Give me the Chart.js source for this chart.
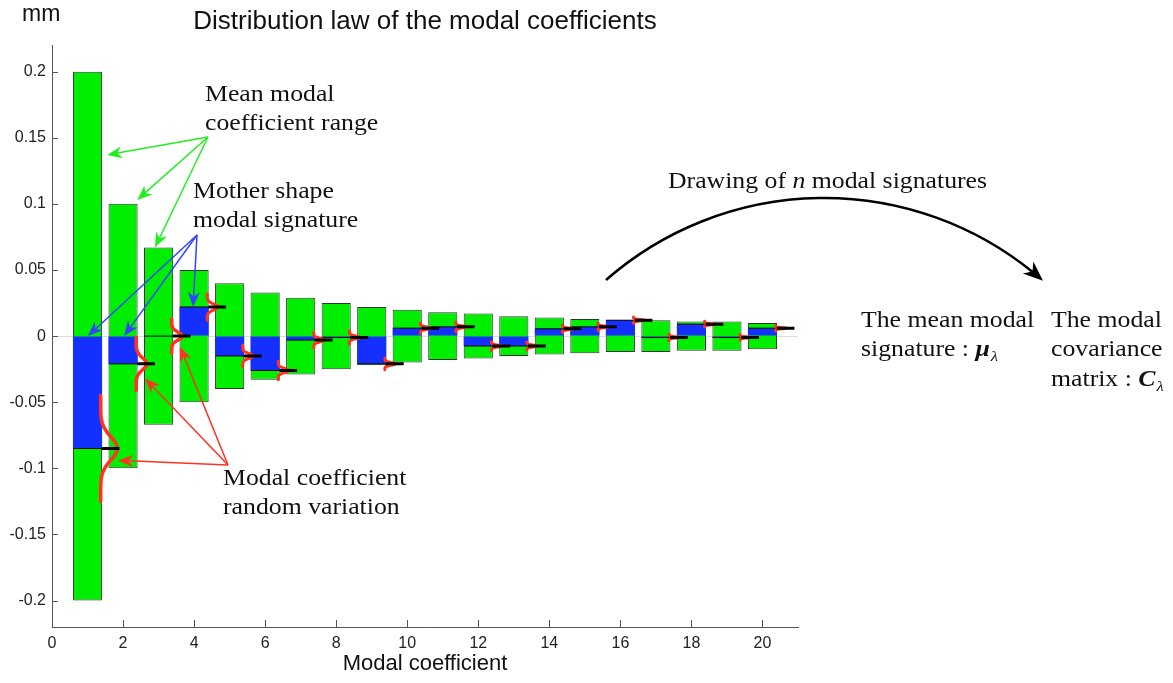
<!DOCTYPE html>
<html>
<head>
<meta charset="utf-8">
<script src="https://cdn.jsdelivr.net/npm/chart.js@4.4.1/dist/chart.umd.min.js"></script>
<style>
  html, body { margin: 0; padding: 0; background: #fff; }
  #wrap { width: 1173px; height: 683px; }
</style>
</head>
<body>
<div id="wrap"><canvas id="modalChart" width="1173" height="683"></canvas></div>
<script>
// modal coefficient index
const modes = [1, 2, 3, 4, 5, 6, 7, 8, 9, 10, 11, 12, 13, 14, 15, 16, 17, 18, 19, 20];
// half width of the mean modal coefficient range (green bars), mm
const rangeHalf = [0.2, 0.1, 0.067, 0.05, 0.04, 0.033, 0.029, 0.025, 0.022, 0.02,
                   0.018, 0.017, 0.015, 0.014, 0.013, 0.012, 0.012, 0.011, 0.011, 0.01];
// mother shape modal signature (blue bars), mm
const meanSig = [-0.085, -0.021, 0, 0.022, -0.015, -0.026, -0.003, -0.001, -0.021, 0.006,
                 0.007, -0.0075, -0.0075, 0.0055, 0.007, 0.012, -0.001, 0.009, -0.001, 0.006];
// half height of the red random variation curves, mm
const spread = [0.04, 0.02, 0.013, 0.01, 0.008, 0.007, 0.006, 0.005, 0.0045, 0.004,
                0.0037, 0.0034, 0.0031, 0.0029, 0.0027, 0.0025, 0.0024, 0.0022, 0.0021, 0.002];
const xTicks = [0, 2, 4, 6, 8, 10, 12, 14, 16, 18, 20];
const yTicks = [-0.2, -0.15, -0.1, -0.05, 0, 0.05, 0.1, 0.15, 0.2];

const SANS = '"Liberation Sans", Arial, sans-serif';
const SERIF = '"Liberation Serif", "Times New Roman", serif';
const STRETCH = 1.12;   // the serif labels in the figure are a bit wide
const GREEN = '#00ee00';
const BLUE = '#1430ff';
const RED = '#ff3320';

// segments: thin line across the bar at the signature value, thick one right of it
const thinLine = [];
const thickLine = [];
modes.forEach((k, i) => {
    thinLine.push({x: k - 0.4, y: meanSig[i]}, {x: k + 0.4, y: meanSig[i]}, {x: k + 0.41, y: null});
    thickLine.push({x: k + 0.4, y: meanSig[i]}, {x: k + 0.9, y: meanSig[i]}, {x: k + 0.91, y: null});
});

function serifText(ctx, str, x, y, style, size) {
    ctx.save();
    ctx.font = (style || '') + ' ' + (size || 23) + 'px ' + SERIF;
    ctx.translate(x, y);
    ctx.scale(STRETCH, 1);
    ctx.fillText(str, 0, 0);
    const w = ctx.measureText(str).width * STRETCH;
    ctx.restore();
    return w;
}

function arrow(ctx, x0, y0, x1, y1, color, lw, len, half) {
    const a = Math.atan2(y1 - y0, x1 - x0);
    ctx.save();
    ctx.strokeStyle = color;
    ctx.fillStyle = color;
    ctx.lineWidth = lw;
    ctx.beginPath();
    ctx.moveTo(x0, y0);
    ctx.lineTo(x1 - Math.cos(a) * len * 0.7, y1 - Math.sin(a) * len * 0.7);
    ctx.stroke();
    ctx.translate(x1, y1);
    ctx.rotate(a);
    ctx.beginPath();
    ctx.moveTo(0, 0);
    ctx.lineTo(-len, -half);
    ctx.lineTo(-len * 0.7, 0);
    ctx.lineTo(-len, half);
    ctx.closePath();
    ctx.fill();
    ctx.restore();
}

// red bell curves, drawn just under the thick black segments
const bellPlugin = {
    id: 'bells',
    beforeDatasetDraw(chart, args) {
        if (args.index !== 3) return;
        const {ctx, chartArea, scales: {x, y}} = chart;
        ctx.save();
        ctx.beginPath();
        ctx.rect(chartArea.left, chartArea.top, chartArea.right - chartArea.left, chartArea.bottom - chartArea.top);
        ctx.clip();
        ctx.strokeStyle = RED;
        ctx.lineJoin = 'round';
        ctx.lineCap = 'round';
        modes.forEach((k, i) => {
            const w = k === 1 ? 0.47 : 0.3;
            const base = k + 0.37;
            ctx.lineWidth = k < 4 ? 3.5 : 3;
            ctx.beginPath();
            for (let t = -1; t <= 1.0001; t += 0.05) {
                const z = 4.5 * t;
                const px = x.getPixelForValue(base + w * Math.exp(-z * z / 2));
                const py = y.getPixelForValue(meanSig[i] + t * spread[i]);
                if (t === -1) ctx.moveTo(px, py); else ctx.lineTo(px, py);
            }
            ctx.stroke();
        });
        ctx.restore();
    }
};

const notesPlugin = {
    id: 'notes',
    afterDraw(chart) {
        const {ctx, chartArea, scales: {x, y}} = chart;
        ctx.save();
        // inward tick marks, MATLAB style
        ctx.strokeStyle = '#555';
        ctx.lineWidth = 1;
        ctx.beginPath();
        yTicks.forEach(v => {
            const py = Math.round(y.getPixelForValue(v)) + 0.5;
            ctx.moveTo(chartArea.left, py);
            ctx.lineTo(chartArea.left + 6, py);
        });
        xTicks.forEach(v => {
            const px = Math.round(x.getPixelForValue(v)) + 0.5;
            ctx.moveTo(px, chartArea.bottom);
            ctx.lineTo(px, chartArea.bottom - 7);
        });
        ctx.stroke();

        // unit label
        ctx.fillStyle = '#111';
        ctx.font = '23px ' + SANS;
        ctx.textBaseline = 'alphabetic';
        ctx.fillText('mm', 22, 21);

        // annotation texts
        serifText(ctx, 'Mean modal', 205, 101);
        serifText(ctx, 'coefficient range', 205, 130);
        serifText(ctx, 'Mother shape', 193, 198);
        serifText(ctx, 'modal signature', 193, 227);
        serifText(ctx, 'Modal coefficient', 223, 485);
        serifText(ctx, 'random variation', 223, 514);

        let cx = 668;
        cx += serifText(ctx, 'Drawing of ', cx, 188);
        cx += serifText(ctx, 'n', cx, 188, 'italic');
        serifText(ctx, ' modal signatures', cx, 188);

        serifText(ctx, 'The mean modal', 861, 327);
        cx = 861;
        cx += serifText(ctx, 'signature : ', cx, 356);
        cx += serifText(ctx, 'μ', cx, 356, 'italic bold');
        serifText(ctx, 'λ', cx + 1, 361, 'italic', 15);

        serifText(ctx, 'The modal', 1051, 327);
        serifText(ctx, 'covariance', 1051, 356);
        cx = 1051;
        cx += serifText(ctx, 'matrix : ', cx, 386);
        cx += serifText(ctx, 'C', cx, 386, 'italic bold');
        serifText(ctx, 'λ', cx + 1, 391, 'italic', 15);

        // annotation arrows (tips in data units)
        const P = (vx, vy) => [x.getPixelForValue(vx), y.getPixelForValue(vy)];
        [[1.55, 0.137], [2.4, 0.103], [2.9, 0.067]].forEach(t => {
            const [tx, ty] = P(t[0], t[1]);
            arrow(ctx, 208, 137, tx, ty, '#22ee22', 1.5, 15, 6);
        });
        [[1.01, 0], [2.03, 0], [3.97, 0.022]].forEach(t => {
            const [tx, ty] = P(t[0], t[1]);
            arrow(ctx, 197, 235, tx, ty, '#3344ff', 1.5, 15, 6);
        });
        [[1.86, -0.094], [2.62, -0.032], [3.6, -0.008]].forEach(t => {
            const [tx, ty] = P(t[0], t[1]);
            arrow(ctx, 228, 465, tx, ty, '#ff3322', 1.5, 15, 6);
        });

        // big curved arrow towards the statistics
        const acx = 824, acy = 529, r = 331;
        const a0 = Math.atan2(280 - acy, 606 - acx);
        const aTip = Math.atan2(282 - acy, 1042 - acx);
        const tipX = acx + r * Math.cos(aTip), tipY = acy + r * Math.sin(aTip);
        const dx = -Math.sin(aTip), dy = Math.cos(aTip);
        ctx.strokeStyle = '#000';
        ctx.lineWidth = 2.5;
        ctx.beginPath();
        ctx.arc(acx, acy, r, a0, aTip - 12 / r, false);
        ctx.stroke();
        arrow(ctx, tipX - dx * 14, tipY - dy * 14, tipX, tipY, '#000', 2.5, 20, 8);
        ctx.restore();
    }
};

new Chart(document.getElementById('modalChart'), {
    type: 'bar',
    data: {
        datasets: [
            {
                label: 'Mean modal coefficient range',
                data: modes.map((k, i) => ({x: k, y: [-rangeHalf[i], rangeHalf[i]]})),
                backgroundColor: GREEN,
                borderColor: '#333',
                borderWidth: 1,
                borderSkipped: false,
                grouped: false,
                categoryPercentage: 1,
                barPercentage: 0.82,
                order: 4
            },
            {
                label: 'Mother shape modal signature',
                data: modes.map((k, i) => ({x: k, y: [0, meanSig[i]]})),
                backgroundColor: BLUE,
                borderWidth: 0,
                grouped: false,
                categoryPercentage: 1,
                barPercentage: 0.82,
                order: 3
            },
            {
                type: 'line',
                label: 'signature level',
                data: thinLine,
                borderColor: '#000',
                borderWidth: 1,
                pointRadius: 0,
                fill: false,
                spanGaps: false,
                order: 2
            },
            {
                type: 'line',
                label: 'signature marker',
                data: thickLine,
                borderColor: '#000',
                borderWidth: 3,
                pointRadius: 0,
                fill: false,
                spanGaps: false,
                order: 1
            }
        ]
    },
    options: {
        responsive: false,
        devicePixelRatio: 1,
        animation: false,
        layout: { padding: { left: 0, right: 375, top: 0, bottom: 0 } },
        plugins: {
            legend: { display: false },
            tooltip: { enabled: false },
            title: {
                display: true,
                text: 'Distribution law of the modal coefficients',
                fullSize: false,
                color: '#111',
                font: { family: SANS, size: 26, weight: 'normal' },
                padding: { top: 6, bottom: 8 }
            }
        },
        scales: {
            x: {
                type: 'linear',
                min: 0,
                max: 21,
                offset: false,
                afterBuildTicks: s => { s.ticks = xTicks.map(v => ({value: v})); },
                afterFit: s => { s.height = 56; },
                grid: { drawOnChartArea: false, drawTicks: false },
                border: { color: '#555', width: 1 },
                ticks: { color: '#222', font: { family: SANS, size: 16 }, padding: 7, maxRotation: 0 },
                title: {
                    display: true,
                    text: 'Modal coefficient',
                    color: '#111',
                    font: { family: SANS, size: 22 },
                    padding: { top: 0, bottom: 6 }
                }
            },
            y: {
                min: -0.22,
                max: 0.22,
                afterBuildTicks: s => { s.ticks = yTicks.map(v => ({value: v})); },
                afterFit: s => { s.width = 52; },
                grid: {
                    drawTicks: false,
                    color: c => (c.tick && c.tick.value === 0) ? '#dcdcdc' : 'rgba(0,0,0,0)'
                },
                border: { color: '#555', width: 1 },
                ticks: {
                    color: '#222',
                    font: { family: SANS, size: 16 },
                    padding: 6,
                    callback: v => String(Number(v.toFixed(2)))
                }
            }
        }
    },
    plugins: [bellPlugin, notesPlugin]
});
</script>
</body>
</html>
